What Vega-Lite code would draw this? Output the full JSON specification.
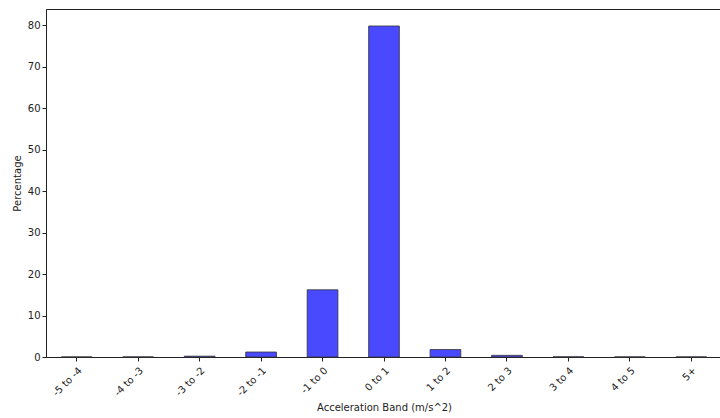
{
  "$schema": "https://vega.github.io/schema/vega-lite/v6.json",
  "width": 676,
  "height": 348,
  "autosize": {"type": "none"},
  "padding": {"left": 46, "top": 9, "right": 0, "bottom": 61},
  "background": "white",
  "config": {
    "font": "DejaVu Sans",
    "view": {"stroke": "#222", "strokeWidth": 1},
    "axis": {
      "domainColor": "#222",
      "tickColor": "#222",
      "tickSize": 4,
      "labelColor": "#222",
      "titleColor": "#222",
      "labelFontSize": 10,
      "titleFontSize": 10,
      "titleFontWeight": "normal",
      "grid": false,
      "labelFont": "DejaVu Sans",
      "titleFont": "DejaVu Sans"
    }
  },
  "data": {
    "values": [
      {"band": "-5 to -4", "pct": 0.02},
      {"band": "-4 to -3", "pct": 0.03},
      {"band": "-3 to -2", "pct": 0.2},
      {"band": "-2 to -1", "pct": 1.2},
      {"band": "-1 to 0", "pct": 16.2},
      {"band": "0 to 1", "pct": 79.8},
      {"band": "1 to 2", "pct": 1.8},
      {"band": "2 to 3", "pct": 0.4},
      {"band": "3 to 4", "pct": 0.04},
      {"band": "4 to 5", "pct": 0.03},
      {"band": "5+", "pct": 0.03}
    ]
  },
  "mark": {"type": "bar", "color": "#4949ff", "stroke": "#333", "strokeWidth": 0.8},
  "encoding": {
    "x": {
      "field": "band",
      "type": "nominal",
      "sort": null,
      "scale": {"paddingInner": 0.5, "paddingOuter": 0.25},
      "axis": {"title": "Acceleration Band (m/s^2)", "labelAngle": -45, "labelAlign": "right", "labelBaseline": "top", "labelPadding": 4, "titlePadding": 5}
    },
    "y": {
      "field": "pct",
      "type": "quantitative",
      "scale": {"domain": [0, 83.9], "nice": false},
      "axis": {"title": "Percentage", "values": [0, 10, 20, 30, 40, 50, 60, 70, 80], "titlePadding": 5}
    }
  }
}
